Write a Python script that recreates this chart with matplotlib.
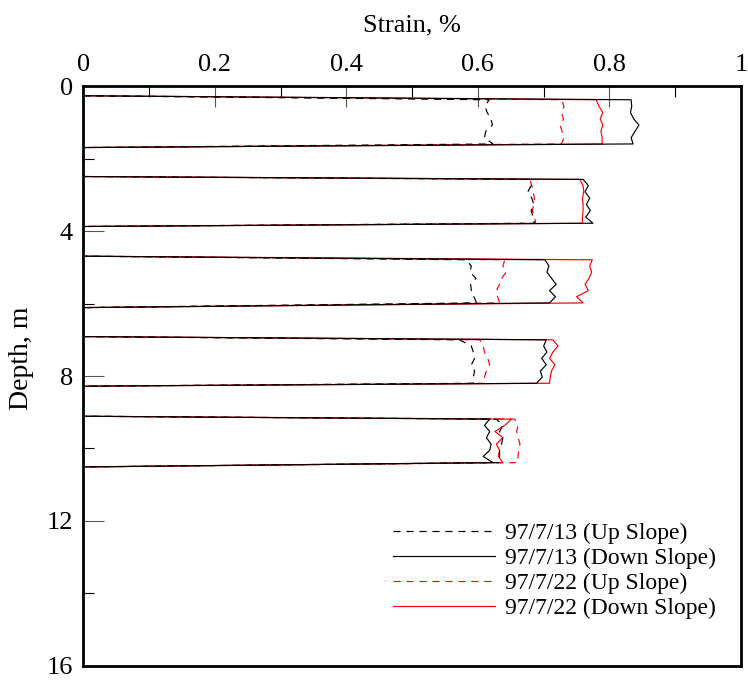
import numpy as np
import matplotlib
matplotlib.use("Agg")
import matplotlib.pyplot as plt

plt.rcParams['font.family'] = ['Liberation Serif', 'DejaVu Serif']

# depth of the zero-strain ends of each instrumented zone (top, bottom), m
zone_ends = [(0.26, 1.69), (2.49, 3.87), (4.69, 6.11), (6.91, 8.28), (9.11, 10.51)]

# gauge depths inside each zone, m
zone_depths = [
    [0.37, 0.55, 0.72, 0.90, 1.07, 1.24, 1.42, 1.59],
    [2.57, 2.74, 2.91, 3.09, 3.26, 3.43, 3.61, 3.78],
    [4.79, 4.96, 5.13, 5.30, 5.47, 5.64, 5.81, 5.98],
    [7.00, 7.17, 7.34, 7.51, 7.69, 7.86, 8.03, 8.20],
    [9.19, 9.36, 9.53, 9.70, 9.88, 10.05, 10.22, 10.39],
]

# strain readings, %, one list per zone
up_0713 = [
    [0.617, 0.611, 0.614, 0.620, 0.622, 0.612, 0.610, 0.623],
    [0.678, 0.681, 0.676, 0.682, 0.685, 0.681, 0.684, 0.686],
    [0.582, 0.590, 0.588, 0.597, 0.589, 0.590, 0.594, 0.598],
    [0.572, 0.590, 0.593, 0.595, 0.590, 0.595, 0.593, 0.593],
    [0.628, 0.638, 0.633, 0.638, 0.636, 0.633, 0.633, 0.633],
]
down_0713 = [
    [0.833, 0.834, 0.832, 0.837, 0.845, 0.839, 0.833, 0.836],
    [0.760, 0.768, 0.763, 0.770, 0.765, 0.771, 0.764, 0.775],
    [0.702, 0.708, 0.705, 0.712, 0.719, 0.709, 0.718, 0.709],
    [0.704, 0.700, 0.705, 0.697, 0.704, 0.695, 0.698, 0.689],
    [0.618, 0.610, 0.618, 0.613, 0.620, 0.618, 0.608, 0.623],
]
up_0722 = [
    [0.727, 0.731, 0.727, 0.730, 0.725, 0.728, 0.731, 0.727],
    [0.679, 0.682, 0.684, 0.686, 0.685, 0.683, 0.686, 0.688],
    [0.641, 0.638, 0.643, 0.636, 0.633, 0.628, 0.630, 0.633],
    [0.603, 0.608, 0.610, 0.615, 0.618, 0.613, 0.610, 0.610],
    [0.656, 0.661, 0.659, 0.661, 0.664, 0.662, 0.661, 0.661],
]
down_0722 = [
    [0.780, 0.784, 0.790, 0.786, 0.790, 0.787, 0.789, 0.789],
    [0.755, 0.760, 0.761, 0.759, 0.760, 0.760, 0.759, 0.759],
    [0.774, 0.770, 0.773, 0.769, 0.763, 0.768, 0.750, 0.760],
    [0.714, 0.722, 0.714, 0.709, 0.717, 0.712, 0.710, 0.709],
    [0.651, 0.641, 0.626, 0.638, 0.628, 0.633, 0.631, 0.638],
]

# label, data, colour, linestyle, zorder (black traces sit on top)
series = [
    ('97/7/13 (Up Slope)', up_0713, 'black', (0, (6, 5)), 4),
    ('97/7/13 (Down Slope)', down_0713, 'black', '-', 4),
    ('97/7/22 (Up Slope)', up_0722, 'red', (0, (6, 5)), 3),
    ('97/7/22 (Down Slope)', down_0722, 'red', '-', 3),
]


def profile(values):
    # join the zones into one trace that returns to zero strain between them
    xs, ys = [], []
    for (d_top, d_bot), depths, vals in zip(zone_ends, zone_depths, values):
        xs += [0.0] + list(vals) + [0.0]
        ys += [d_top] + list(depths) + [d_bot]
    return xs, ys


fig = plt.figure(figsize=(7.48, 6.8), dpi=100)
ax = fig.add_axes([0.1115, 0.021, 0.879, 0.852])

for label, vals, color, ls, z in series:
    xs, ys = profile(vals)
    ax.plot(xs, ys, color=color, linestyle=ls, linewidth=0.85, label=label, zorder=z)

ax.set_xlim(0, 1)
ax.set_ylim(16, 0)
ax.xaxis.tick_top()
ax.xaxis.set_label_position('top')
ax.set_xticks(np.arange(0, 1.01, 0.2))
ax.set_xticklabels(['0', '0.2', '0.4', '0.6', '0.8', '1'])
ax.set_xticks(np.arange(0.1, 1.0, 0.2), minor=True)
ax.set_yticks([0, 4, 8, 12, 16])
ax.set_yticks([2, 6, 10, 14], minor=True)
ax.tick_params(which='major', direction='in', length=15, width=0.8,
               color='#555555', labelsize=19, pad=7.5)
ax.tick_params(which='minor', direction='in', length=8, width=0.8,
               color='black')
ax.tick_params(axis='x', which='both', top=True, bottom=False)
ax.tick_params(axis='y', which='both', left=True, right=False)

for sp in ax.spines.values():
    sp.set_linewidth(2.0)
    sp.set_zorder(5)

ax.set_xlabel('Strain, %', fontsize=19, labelpad=16)
ax.set_ylabel('Depth, m', fontsize=20)
ax.yaxis.set_label_coords(-0.075, 0.53)

ax.legend(loc='lower right', bbox_to_anchor=(0.994, 0.044), frameon=False,
          fontsize=17, handlelength=4.3, handletextpad=0.42, labelspacing=0.14)

fig.savefig('out.png', dpi=100)
